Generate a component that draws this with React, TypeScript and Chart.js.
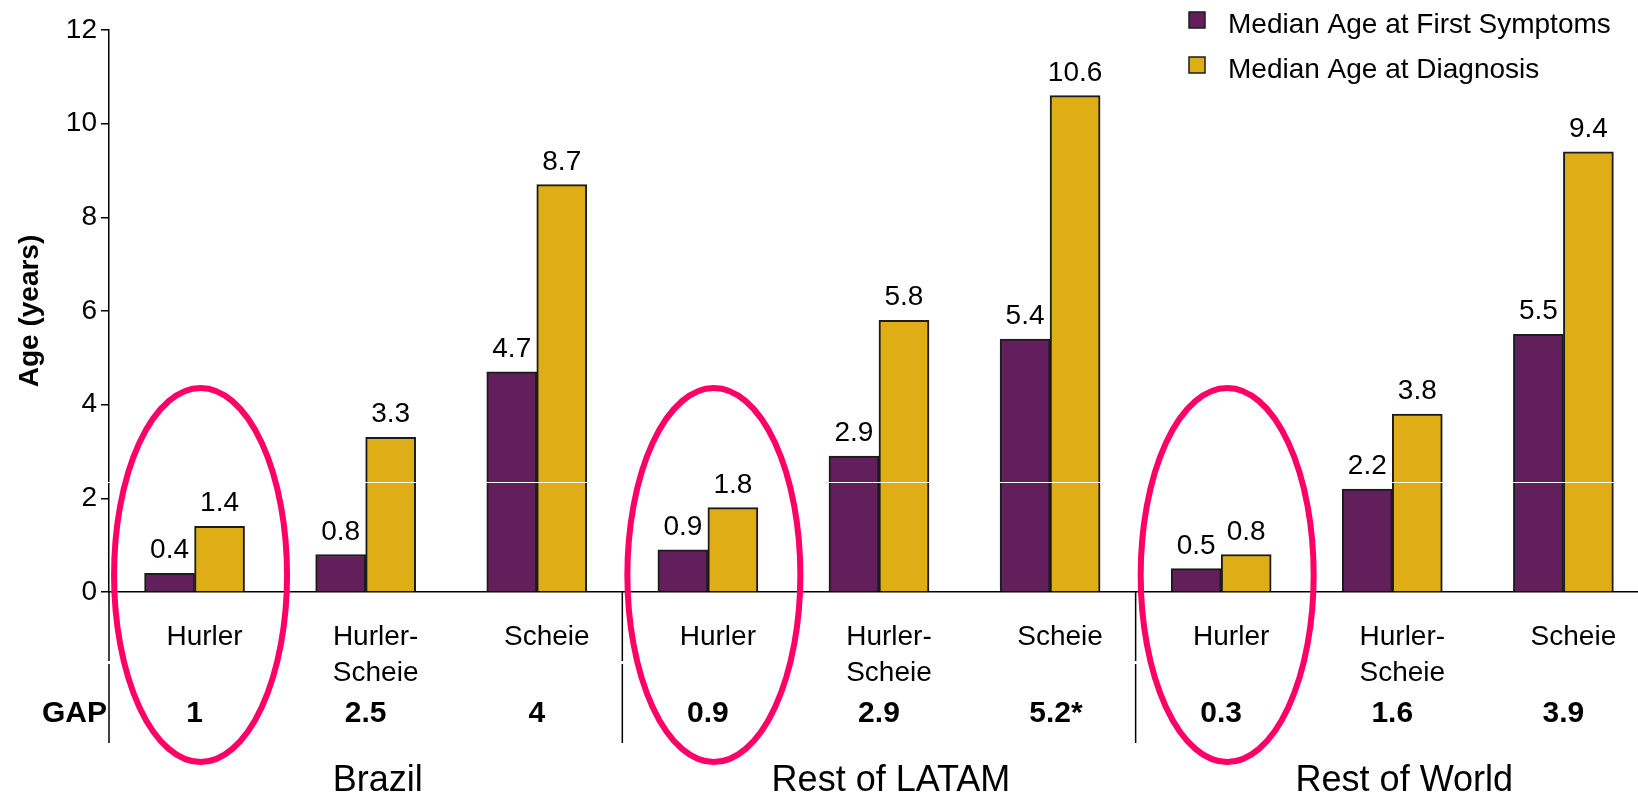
import React, { useEffect, useRef } from "react";
import { Chart, registerables } from "chart.js";

Chart.register(...registerables);

const FONT = "'Liberation Sans', Arial, Helvetica, sans-serif";

// ---- data ----
const categoryLines: string[][] = [
  ["Hurler"], ["Hurler-", "Scheie"], ["Scheie"],
  ["Hurler"], ["Hurler-", "Scheie"], ["Scheie"],
  ["Hurler"], ["Hurler-", "Scheie"], ["Scheie"],
];
const groups = ["Brazil", "Rest of LATAM", "Rest of World"];
const groupSizes = [3, 3, 3];
const seriesNames = ["Median Age at First Symptoms", "Median Age at Diagnosis"];
const firstSymptoms = [0.4, 0.8, 4.7, 0.9, 2.9, 5.4, 0.5, 2.2, 5.5];
const diagnosis = [1.4, 3.3, 8.7, 1.8, 5.8, 10.6, 0.8, 3.8, 9.4];
const gapValues = ["1", "2.5", "4", "0.9", "2.9", "5.2", "0.3", "1.6", "3.9"];
const gapMarks = ["", "", "", "", "", "*", "", "", ""];
const highlighted = [0, 3, 6];
const gapTitle = "GAP";
const yTitle = "Age (years)";

// ---- styles ----
const PURPLE = "#621F5B";
const GOLD = "#DFAE16";
const EDGE = "#1c1c1c";
const PINK = "#FF0066";

const overlay = {
  id: "overlay",
  afterDatasetsDraw(chart: any) {
    const ctx = chart.ctx as CanvasRenderingContext2D;
    const ys = chart.scales.y;
    const area = chart.chartArea;
    ctx.save();
    // white artifact line across bars
    const wy = Math.round(ys.getPixelForValue(2.35)) + 0.5;
    ctx.strokeStyle = "#ffffff";
    ctx.lineWidth = 1;
    ctx.beginPath();
    ctx.moveTo(area.left - 2, wy);
    ctx.lineTo(area.right, wy);
    ctx.stroke();
    // value labels
    ctx.font = `28px ${FONT}`;
    ctx.fillStyle = "#000";
    ctx.textAlign = "center";
    ctx.textBaseline = "alphabetic";
    chart.data.datasets.forEach((ds: any, di: number) => {
      const meta = chart.getDatasetMeta(di);
      meta.data.forEach((bar: any, i: number) => {
        const v = ds.data[i].y as number;
        ctx.fillText(v.toFixed(1), bar.x, bar.y - 15);
      });
    });
    ctx.restore();
  },
  afterDraw(chart: any) {
    const ctx = chart.ctx as CanvasRenderingContext2D;
    const xs = chart.scales.x;
    const ys = chart.scales.y;
    const area = chart.chartArea;
    const base = ys.getPixelForValue(0);
    ctx.save();

    // y axis extension below baseline + group separators
    ctx.strokeStyle = "#000";
    ctx.lineWidth = 1.5;
    const vline = (x: number) => {
      ctx.beginPath();
      ctx.moveTo(x, base);
      ctx.lineTo(x, base + 69);
      ctx.moveTo(x, base + 72);
      ctx.lineTo(x, base + 151);
      ctx.stroke();
    };
    vline(area.left);
    let acc = 0;
    groupSizes.forEach((n, gi) => {
      acc += n;
      if (gi < groupSizes.length - 1) vline(xs.getPixelForValue(acc - 0.5));
    });

    // category labels
    ctx.fillStyle = "#000";
    ctx.textAlign = "center";
    ctx.textBaseline = "alphabetic";
    ctx.font = `28px ${FONT}`;
    categoryLines.forEach((lines, i) => {
      const cx = xs.getPixelForValue(i) + 10;
      lines.forEach((t, li) => ctx.fillText(t, cx, base + 53 + li * 36));
    });

    // GAP row
    ctx.font = `bold 30px ${FONT}`;
    ctx.textAlign = "right";
    ctx.fillText(gapTitle, area.left - 2, base + 130);
    gapValues.forEach((t, i) => {
      const cx = xs.getPixelForValue(i);
      const w = ctx.measureText(t).width;
      ctx.textAlign = "left";
      ctx.fillText(t + gapMarks[i], cx - w / 2, base + 130);
    });

    // group labels
    ctx.font = `36px ${FONT}`;
    ctx.textAlign = "center";
    let start = 0;
    groups.forEach((g, gi) => {
      const n = groupSizes[gi];
      const mid = start + (n - 1) / 2;
      ctx.fillText(g, xs.getPixelForValue(mid) + 12, base + 199);
      start += n;
    });

    // highlight ellipses
    ctx.strokeStyle = PINK;
    ctx.lineWidth = 6;
    highlighted.forEach((i) => {
      ctx.beginPath();
      ctx.ellipse(xs.getPixelForValue(i) + 6, base - 17, 86.5, 187, 0, 0, Math.PI * 2);
      ctx.stroke();
    });

    // legend
    const colors = [PURPLE, GOLD];
    ctx.font = `28px ${FONT}`;
    ctx.textAlign = "left";
    seriesNames.forEach((name, i) => {
      const by = 33 + i * 45;
      const sx = chart.width - 449;
      ctx.fillStyle = colors[i];
      ctx.fillRect(sx, by - 21, 16, 16);
      ctx.strokeStyle = EDGE;
      ctx.lineWidth = 1.5;
      ctx.strokeRect(sx, by - 21, 16, 16);
      ctx.fillStyle = "#000";
      ctx.fillText(name, chart.width - 410, by);
    });

    ctx.restore();
  },
};

export default function App() {
  const ref = useRef<HTMLCanvasElement | null>(null);

  useEffect(() => {
    if (!ref.current) return;
    Chart.defaults.font.family = FONT;
    const chart = new Chart(ref.current, {
      type: "bar",
      data: {
        datasets: [
          {
            label: seriesNames[0],
            data: firstSymptoms.map((v, i) => ({ x: i, y: v })),
            backgroundColor: PURPLE,
            borderColor: EDGE,
            borderWidth: 2,
          },
          {
            label: seriesNames[1],
            data: diagnosis.map((v, i) => ({ x: i, y: v })),
            backgroundColor: GOLD,
            borderColor: EDGE,
            borderWidth: 2,
          },
        ],
      },
      options: {
        responsive: false,
        animation: false,
        devicePixelRatio: 1,
        layout: { padding: { left: 0, top: 30, right: 0, bottom: 202 } },
        datasets: { bar: { barThickness: 50, grouped: true } },
        plugins: { legend: { display: false }, tooltip: { enabled: false } },
        scales: {
          x: {
            type: "linear",
            offset: false,
            min: -0.5,
            max: 8.436,
            grid: { display: false, offset: false },
            ticks: { display: false },
            border: { display: true, color: "#000", width: 1.5 },
            afterBuildTicks: (s: any) => {
              s.ticks = categoryLines.map((_, i) => ({ value: i }));
            },
            afterFit: (s: any) => {
              s.height = 0;
            },
          },
          y: {
            min: 0,
            max: 12,
            ticks: { stepSize: 2, color: "#000", font: { size: 28 }, padding: 4 },
            grid: {
              drawOnChartArea: false,
              drawTicks: true,
              tickLength: 8,
              color: "#000",
              lineWidth: 1.5,
            },
            border: { display: true, color: "#000", width: 1.5 },
            title: {
              display: true,
              text: yTitle,
              color: "#000",
              font: { size: 28, weight: "bold" },
              padding: { top: 13, bottom: 0 },
            },
            afterFit: (s: any) => {
              s.width = 109;
            },
          },
        },
      },
      plugins: [overlay],
    } as any);
    return () => chart.destroy();
  }, []);

  return (
    <div style={{ position: "absolute", left: 0, top: 0, width: 1638, height: 794, background: "#fff" }}>
      <canvas ref={ref} width={1638} height={794} style={{ display: "block" }} />
    </div>
  );
}
